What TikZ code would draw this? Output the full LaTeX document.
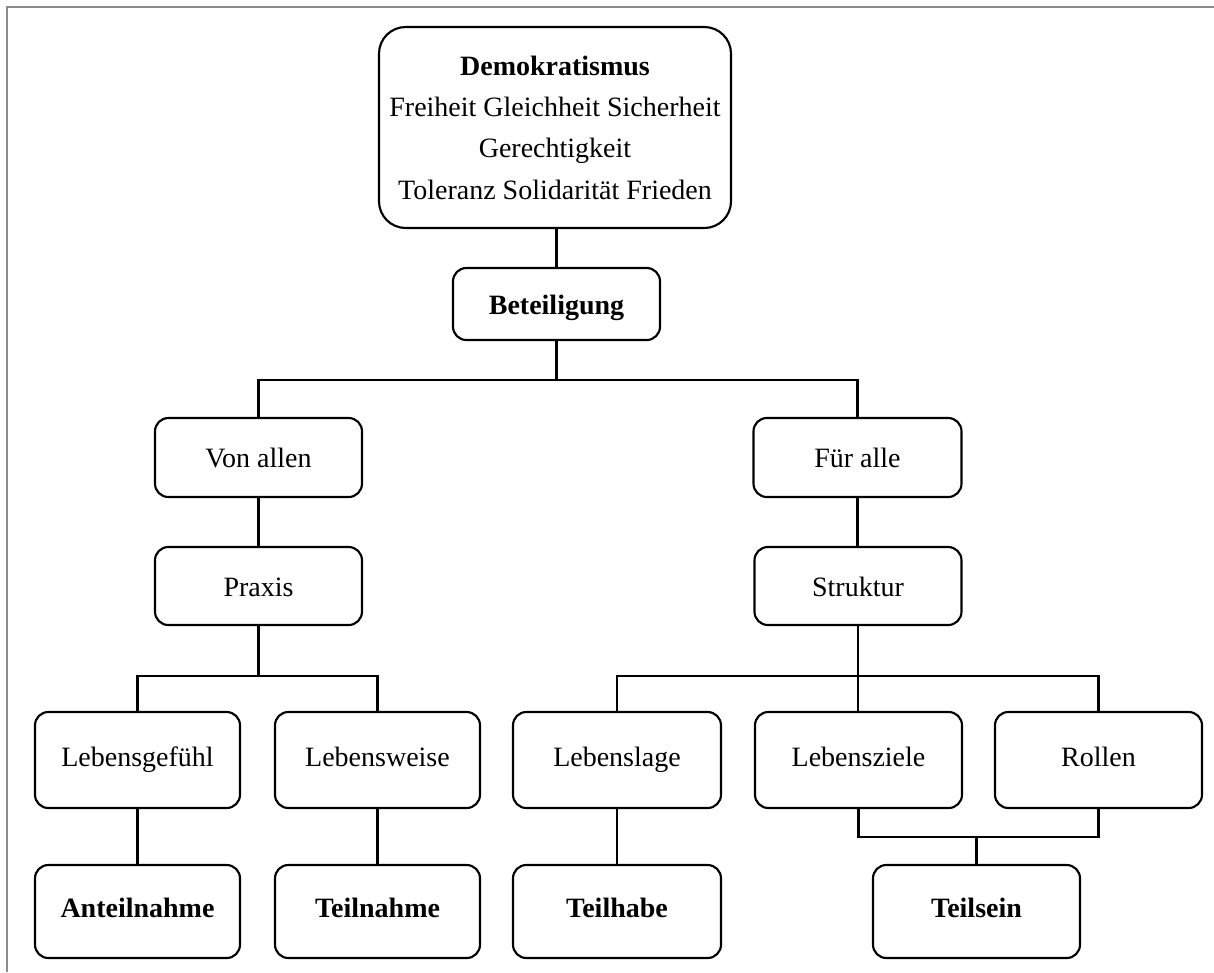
\documentclass[tikz,border=0pt]{standalone}
\usepackage{fontspec}
\setmainfont{Liberation Serif}
\begin{document}
\begin{tikzpicture}[x=0.75pt,y=-0.75pt,
  box/.style={draw, line width=1.6pt, rounded corners=10pt, inner sep=0pt, align=center,
    font=\fontsize{21}{31}\selectfont},
  fixed/.style={text height=16pt, text depth=1pt},
  raised/.style={text height=15pt, text depth=6pt},
  conn/.style={line width=1.6pt}]
\useasboundingbox (0,0) rectangle (1214,972);
\draw[line width=1.5pt, color=black!45] (7,972) -- (7,7) -- (1214,7);

\node[box, rounded corners=20pt, minimum width=352*0.75pt, minimum height=201*0.75pt] (demo) at (555,127.5)
  {\textbf{Demokratismus}\\Freiheit Gleichheit Sicherheit\\Gerechtigkeit\\Toleranz Solidarität Frieden};
\node[box, fixed, minimum width=207*0.75pt, minimum height=72*0.75pt] (bet) at (556.5,304) {\textbf{Beteiligung}};

\node[box, fixed, minimum width=207*0.75pt, minimum height=79*0.75pt] (von) at (258.5,457.5) {Von allen};
\node[box, fixed, minimum width=208*0.75pt, minimum height=79*0.75pt] (fuer) at (857.5,457.5) {Für alle};
\node[box, fixed, minimum width=207*0.75pt, minimum height=78*0.75pt] (praxis) at (258.5,586) {Praxis};
\node[box, fixed, minimum width=207*0.75pt, minimum height=78*0.75pt] (struktur) at (858,586) {Struktur};

\node[box, raised, minimum width=205*0.75pt, minimum height=96*0.75pt] (lg) at (137.5,760) {Lebensgefühl};
\node[box, raised, minimum width=205*0.75pt, minimum height=96*0.75pt] (lw) at (377.5,760) {Lebensweise};
\node[box, raised, minimum width=208*0.75pt, minimum height=96*0.75pt] (lsl) at (617,760) {Lebenslage};
\node[box, raised, minimum width=207*0.75pt, minimum height=96*0.75pt] (lz) at (858.5,760) {Lebensziele};
\node[box, raised, minimum width=207*0.75pt, minimum height=96*0.75pt] (rollen) at (1098.5,760) {Rollen};

\node[box, raised, minimum width=205*0.75pt, minimum height=93*0.75pt] (anteil) at (137.5,911.5) {\textbf{Anteilnahme}};
\node[box, raised, minimum width=205*0.75pt, minimum height=93*0.75pt] (teilnahme) at (377.5,911.5) {\textbf{Teilnahme}};
\node[box, raised, minimum width=208*0.75pt, minimum height=93*0.75pt] (teilhabe) at (617,911.5) {\textbf{Teilhabe}};
\node[box, raised, minimum width=207*0.75pt, minimum height=93*0.75pt] (teilsein) at (976.5,911.5) {\textbf{Teilsein}};

\coordinate (j1) at (556.5,380);
\coordinate (j2) at (258.5,676);
\coordinate (j3) at (858,676);
\coordinate (j4) at (976.5,837);

\draw[conn] (demo.south -| bet) -- (bet.north);
\draw[conn] (bet.south) -- (j1);
\draw[conn] (von.north) |- (j1) -| (fuer.north);
\draw[conn] (von.south) -- (praxis.north);
\draw[conn] (fuer.south) -- (fuer.south |- struktur.north);
\draw[conn] (praxis.south) -- (j2);
\draw[conn] (lg.north) |- (j2) -| (lw.north);
\draw[conn] (struktur.south) -- (j3);
\draw[conn] (lsl.north) |- (j3) -| (rollen.north);
\draw[conn] (j3) -- (j3 |- lz.north);
\draw[conn] (lg.south) -- (anteil.north);
\draw[conn] (lw.south) -- (teilnahme.north);
\draw[conn] (lsl.south) -- (teilhabe.north);
\draw[conn] (lz.south) |- (j4) -| (rollen.south);
\draw[conn] (j4) -- (teilsein.north);
\end{tikzpicture}
\end{document}
